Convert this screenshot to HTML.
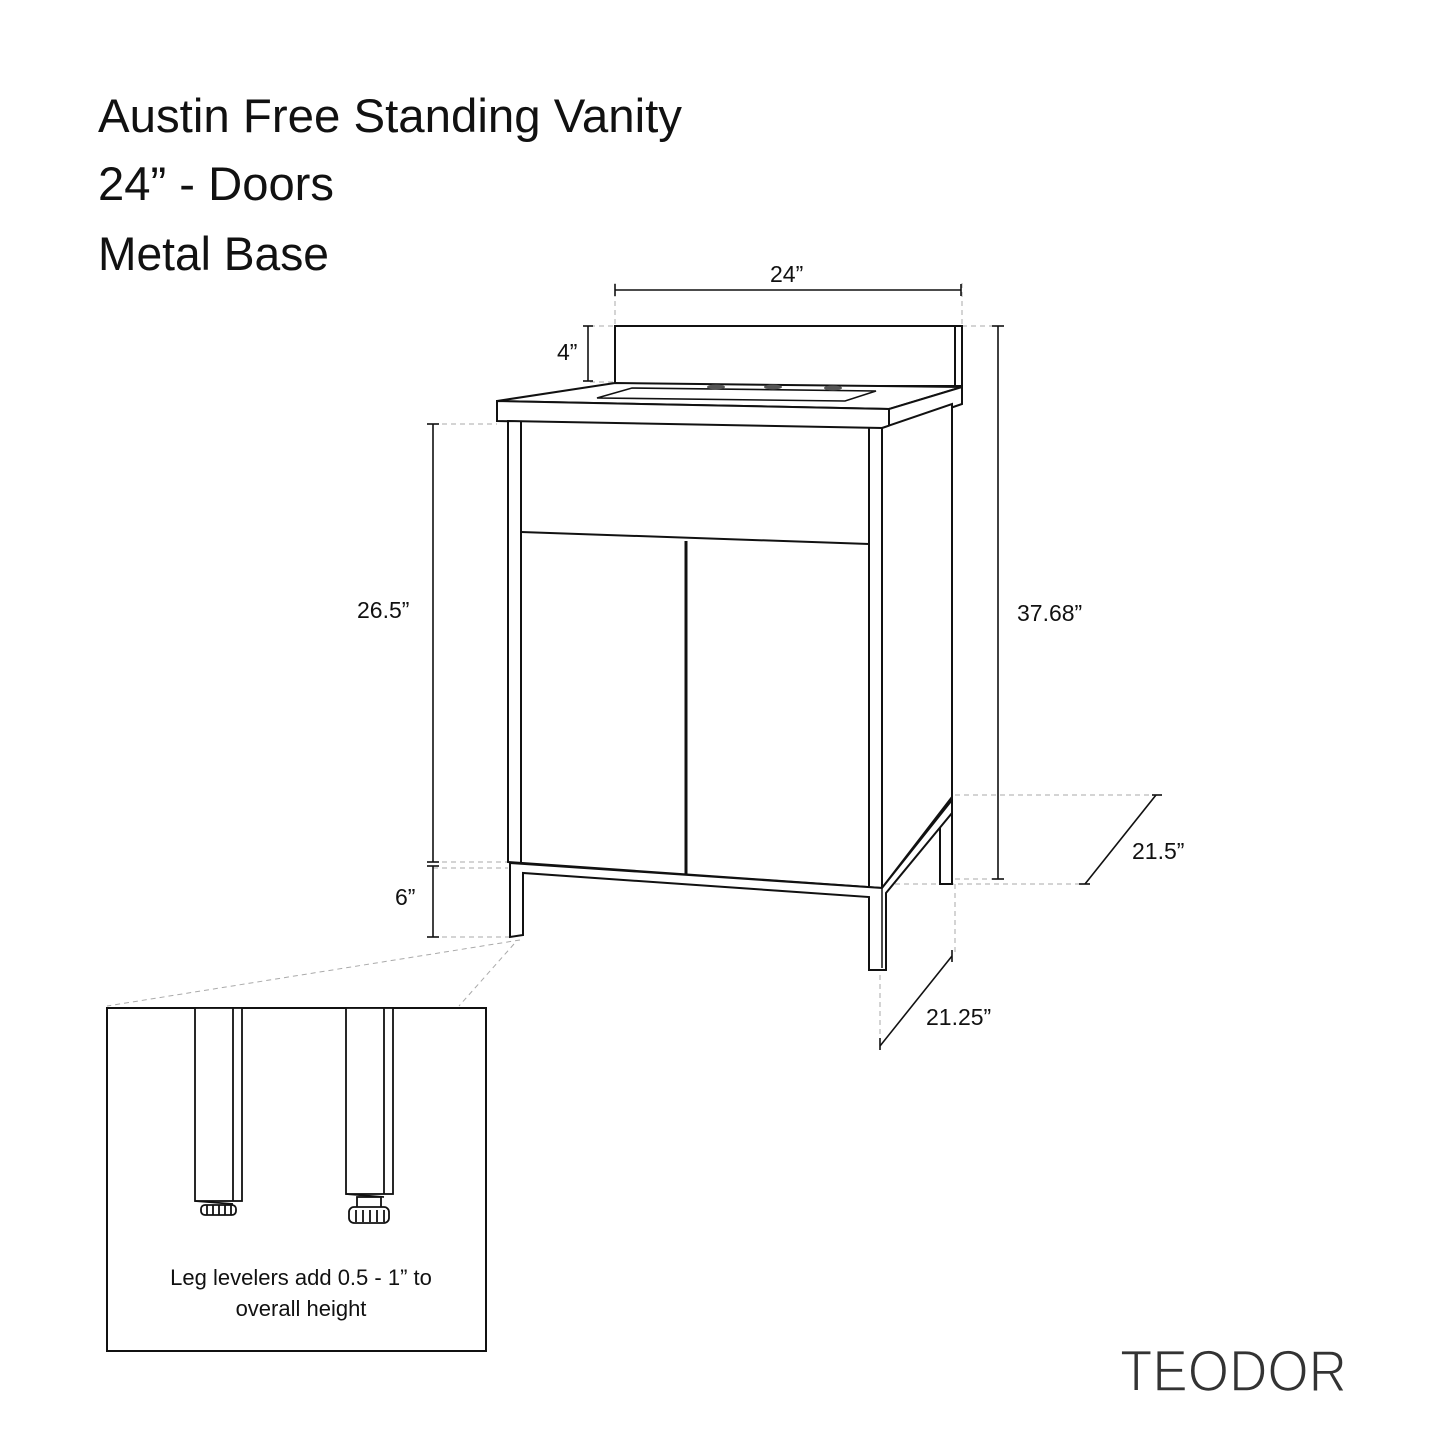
<!DOCTYPE html>
<html><head><meta charset="utf-8"><style>
html,body{margin:0;padding:0;background:#fff}
svg{display:block}
text{font-family:"Liberation Sans",sans-serif;fill:#111}
</style></head><body>
<svg width="1445" height="1445" viewBox="0 0 1445 1445" xmlns="http://www.w3.org/2000/svg">
<rect width="1445" height="1445" fill="#fff"/>
<text x="98" y="132" font-size="47" textLength="584" lengthAdjust="spacingAndGlyphs">Austin Free Standing Vanity</text>
<text x="98" y="200" font-size="47" textLength="236" lengthAdjust="spacingAndGlyphs">24” - Doors</text>
<text x="98" y="270" font-size="47" textLength="231" lengthAdjust="spacingAndGlyphs">Metal Base</text>

<g stroke="#aaa" stroke-width="1" stroke-dasharray="5,4" fill="none">
<line x1="615" y1="283" x2="615" y2="326"/>
<line x1="962" y1="283" x2="962" y2="326"/>
<line x1="590" y1="326" x2="615" y2="326"/>
<line x1="590" y1="382" x2="615" y2="382"/>
<line x1="962" y1="326" x2="1003" y2="326"/>
<line x1="433" y1="424" x2="497" y2="424"/>
<line x1="433" y1="862" x2="508" y2="862"/>
<line x1="433" y1="868" x2="508" y2="868"/>
<line x1="433" y1="937" x2="510" y2="937"/>
<line x1="955" y1="795" x2="1160" y2="795"/>
<line x1="886" y1="884" x2="1085" y2="884"/>
<line x1="955" y1="879" x2="1003" y2="879"/>
<line x1="955" y1="884" x2="955" y2="955"/>
<line x1="880" y1="975" x2="880" y2="1045"/>
<line x1="520" y1="940" x2="107" y2="1006"/>
<line x1="514" y1="944" x2="459" y2="1006"/>
</g>

<g stroke="#111" stroke-width="1.6" fill="none">
<line x1="615" y1="290" x2="961" y2="290"/><line x1="615" y1="284" x2="615" y2="296"/><line x1="961" y1="284" x2="961" y2="296"/>
<line x1="588" y1="326" x2="588" y2="381"/><line x1="583" y1="326" x2="593" y2="326"/><line x1="583" y1="381" x2="593" y2="381"/>
<line x1="433" y1="424" x2="433" y2="862"/><line x1="427" y1="424" x2="439" y2="424"/><line x1="427" y1="862" x2="439" y2="862"/>
<line x1="433" y1="866" x2="433" y2="937"/><line x1="427" y1="866" x2="439" y2="866"/><line x1="427" y1="937" x2="439" y2="937"/>
<line x1="998" y1="326" x2="998" y2="879"/><line x1="992" y1="326" x2="1004" y2="326"/><line x1="992" y1="879" x2="1004" y2="879"/>
<line x1="1085" y1="884" x2="1156" y2="795"/><line x1="1079" y1="884" x2="1090" y2="884"/><line x1="1152" y1="795" x2="1162" y2="795"/>
<line x1="880" y1="1046" x2="952" y2="956"/><line x1="880" y1="1038" x2="880" y2="1050"/><line x1="952" y1="950" x2="952" y2="962"/>
</g>
<g font-size="23">
<text x="770" y="282">24”</text>
<text x="557" y="360">4”</text>
<text x="357" y="618">26.5”</text>
<text x="395" y="905">6”</text>
<text x="1017" y="621">37.68”</text>
<text x="1132" y="859">21.5”</text>
<text x="926" y="1025">21.25”</text>
</g>

<g stroke="#111" stroke-width="2" fill="#fff" stroke-linejoin="miter">
<rect x="615" y="326" width="347" height="60"/>
<line x1="955" y1="326" x2="955" y2="386"/>
<polygon points="497,401 615,383 962,387 889,409"/>
<polygon points="497,401 889,409 889,429 497,421"/>
<polygon points="889,409 962,387 962,404 889,429"/>
<polygon points="597,398 632,388 876,391 845,401" stroke-width="1.6"/>
<polygon points="882,428 952,404 952,797 882,888"/>
<polygon points="508,421 882,428 882,888 508,862"/>
<line x1="521" y1="421" x2="521" y2="862"/>
<line x1="869" y1="428" x2="869" y2="886"/>
<line x1="521" y1="532" x2="869" y2="544"/>
<line x1="686" y1="541" x2="686" y2="874" stroke-width="3"/>
<polygon points="940,822 952,808 952,884 940,884"/>
<polygon points="510,863 882,888 952,800 952,813 886,893 886,970 869,970 869,897 523,873 523,935 510,937"/>
<line x1="882" y1="888" x2="882" y2="968" stroke-width="1.5"/>
<line x1="510" y1="863" x2="510" y2="937"/>
</g>
<g fill="#555">
<ellipse cx="716" cy="387" rx="9" ry="2.5"/>
<ellipse cx="773" cy="387" rx="9" ry="2.5"/>
<ellipse cx="833" cy="388" rx="9" ry="2.5"/>
</g>

<rect x="107" y="1008" width="379" height="343" fill="none" stroke="#111" stroke-width="2"/>
<g stroke="#111" stroke-width="1.8" fill="#fff">
<rect x="195" y="1008" width="47" height="193"/>
<line x1="233" y1="1008" x2="233" y2="1201"/>
<line x1="195" y1="1201" x2="233" y2="1204"/>
<rect x="201" y="1205" width="35" height="10" rx="4"/>
<line x1="207" y1="1205" x2="207" y2="1215"/><line x1="213" y1="1205" x2="213" y2="1215"/><line x1="219" y1="1205" x2="219" y2="1215"/><line x1="225" y1="1205" x2="225" y2="1215"/><line x1="231" y1="1205" x2="231" y2="1215"/>
<rect x="346" y="1008" width="47" height="186"/>
<line x1="384" y1="1008" x2="384" y2="1194"/>
<line x1="346" y1="1194" x2="384" y2="1197"/>
<rect x="357" y="1197" width="24" height="12"/>
<rect x="349" y="1207" width="40" height="16" rx="5"/>
<line x1="356" y1="1210" x2="356" y2="1222"/><line x1="363" y1="1210" x2="363" y2="1222"/><line x1="370" y1="1210" x2="370" y2="1222"/><line x1="377" y1="1210" x2="377" y2="1222"/><line x1="384" y1="1210" x2="384" y2="1222"/>
</g>
<text x="301" y="1285" font-size="22" text-anchor="middle">Leg levelers add 0.5 - 1” to</text>
<text x="301" y="1316" font-size="22" text-anchor="middle">overall height</text>

<text x="1120" y="1391" font-size="58" style="fill:#333;stroke:#fff;stroke-width:1.6" textLength="227" lengthAdjust="spacingAndGlyphs">TEODOR</text>
</svg>
</body></html>
